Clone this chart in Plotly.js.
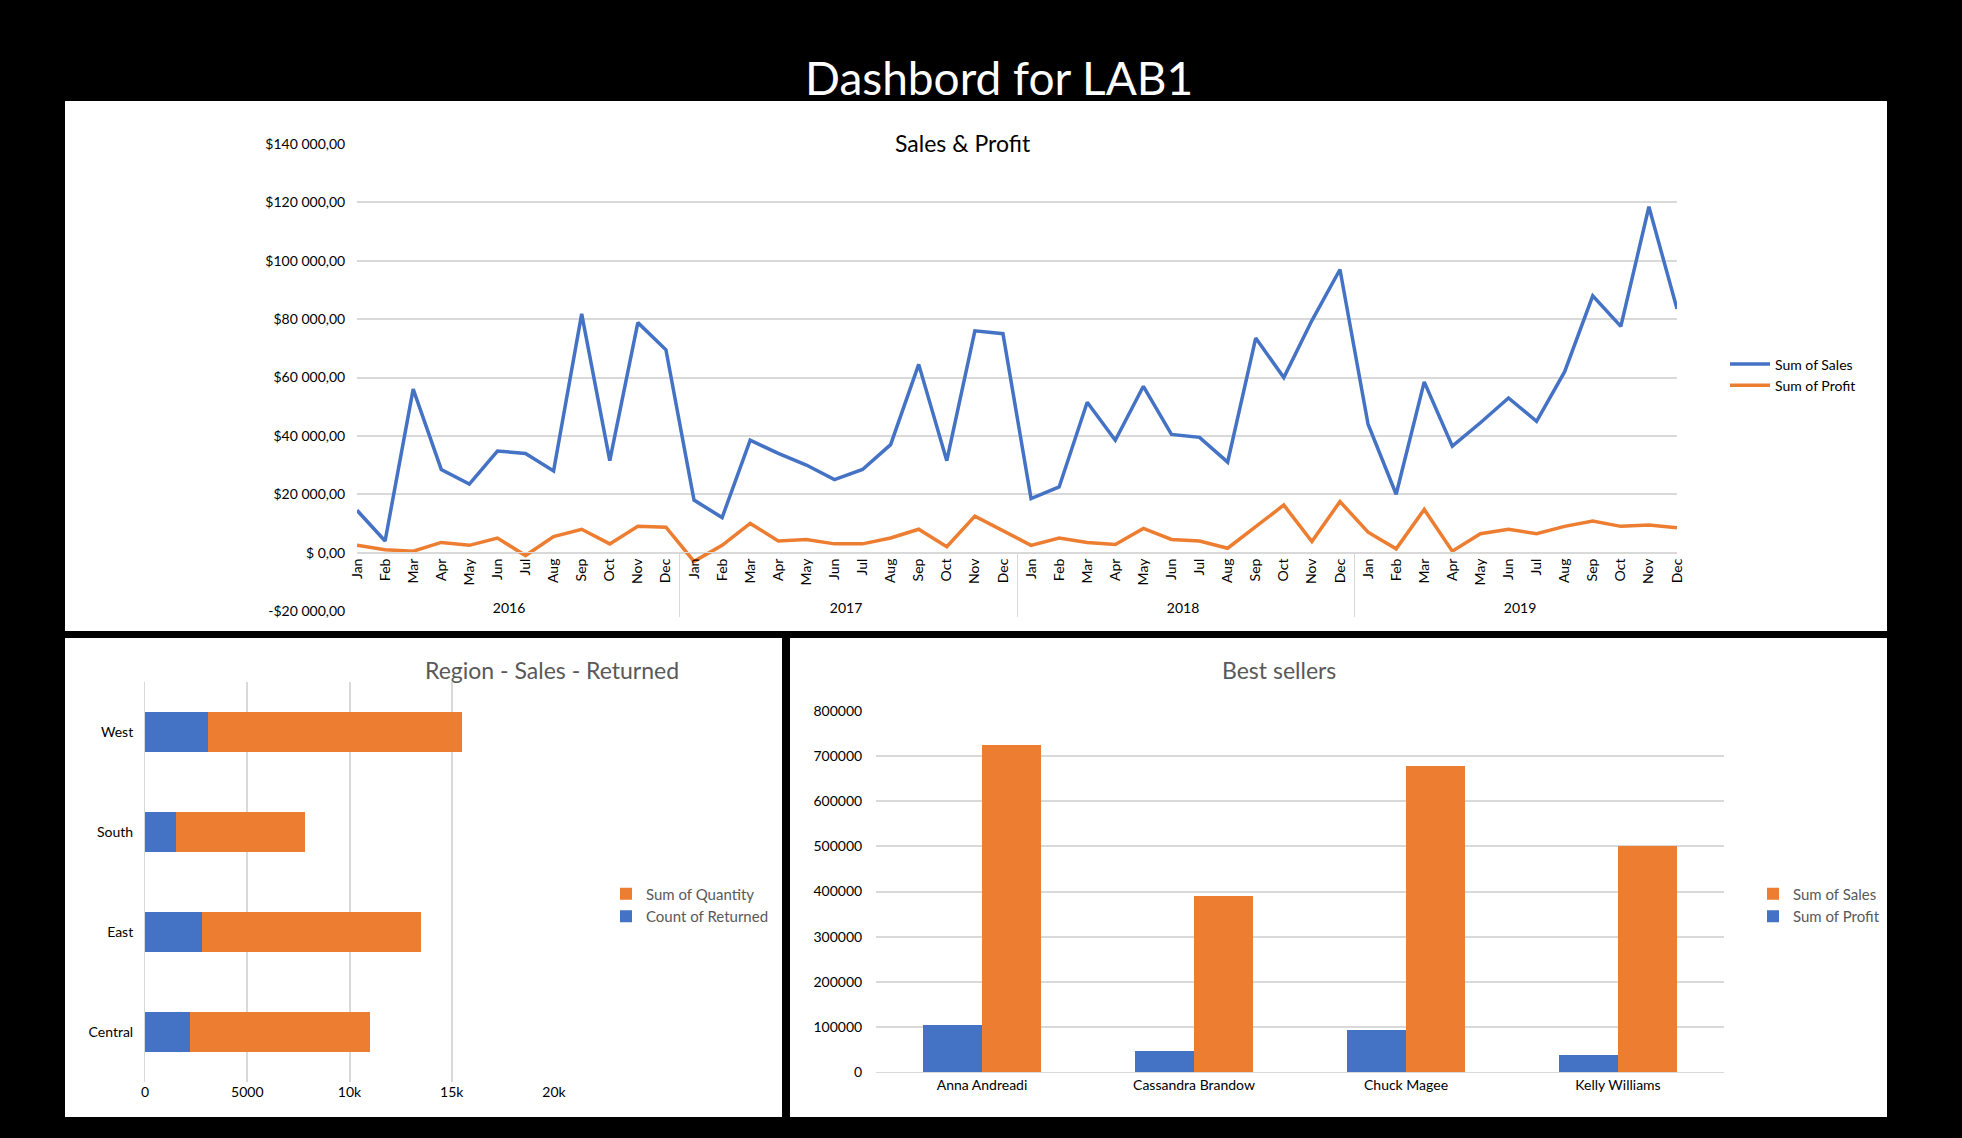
<!DOCTYPE html>
<html><head><meta charset="utf-8">
<script src="https://cdn.plot.ly/plotly-3.0.1.min.js"></script>
<style>html,body{margin:0;padding:0;background:#000}</style>
</head><body><div id="c" style="width:1962px;height:1138px"></div>
<script>
const years=['2016','2017','2018','2019'];
const months=['Jan','Feb','Mar','Apr','May','Jun','Jul','Aug','Sep','Oct','Nov','Dec'];
const sales=[14500,4000,56000,28500,23500,34800,34000,28000,81800,31500,78800,69500,
18000,12000,38500,34000,30000,25000,28500,37000,64500,31500,76000,75000,
18500,22500,51500,38500,57000,40500,39500,31000,73500,60000,79500,97000,
44000,20000,58500,36500,44500,53000,45000,62000,88000,77500,118500,83500];
const profit=[2500,1000,500,3500,2500,5000,-1000,5500,8000,3000,9000,8700,
-3000,2500,10000,4000,4500,3000,3000,5000,8000,2000,12500,7500,
2500,5000,3500,2800,8300,4500,4000,1500,9000,16300,3800,17500,
7000,1300,14800,500,6500,8000,6500,9000,10800,9000,9500,8500];
const yTickVals=[-20000,0,20000,40000,60000,80000,100000,120000,140000];
const yTickText=['-$20 000,00','$ 0,00','$20 000,00','$40 000,00','$60 000,00','$80 000,00','$100 000,00','$120 000,00','$140 000,00'];
const regions=['Central','East','South','West'];
const returned=[2200,2800,1500,3100];
const quantity=[8800,10700,6300,12400];
const sellers=['Anna Andreadi','Cassandra Brandow','Chuck Magee','Kelly Williams'];
const sellerProfit=[105000,47000,92000,38000];
const sellerSales=[725000,390000,678000,500000];

const W=1962,H=1138;
const px=v=>v/W, py=v=>1-v/H;
const xcat=[[],[]];
years.forEach(y=>months.forEach(m=>{xcat[0].push(y);xcat[1].push(m);}));
const blue='#4472C4', orange='#ED7D31';
const F='Lato, "Liberation Sans", sans-serif';
const data=[
 {x:xcat,y:sales,type:'scatter',mode:'lines',name:'Sum of Sales',line:{color:blue,width:3.5},xaxis:'x',yaxis:'y',legend:'legend'},
 {x:xcat,y:profit,type:'scatter',mode:'lines',name:'Sum of Profit',line:{color:orange,width:3.5},xaxis:'x',yaxis:'y',legend:'legend'},
 {y:regions,x:returned,type:'bar',orientation:'h',name:'Count of Returned',marker:{color:blue},xaxis:'x2',yaxis:'y2',legend:'legend2',width:0.4},
 {y:regions,x:quantity,type:'bar',orientation:'h',name:'Sum of Quantity',marker:{color:orange},xaxis:'x2',yaxis:'y2',legend:'legend2',width:0.4},
 {x:sellers,y:sellerProfit,type:'bar',name:'Sum of Profit',marker:{color:blue},xaxis:'x3',yaxis:'y3',legend:'legend3'},
 {x:sellers,y:sellerSales,type:'bar',name:'Sum of Sales',marker:{color:orange},xaxis:'x3',yaxis:'y3',legend:'legend3'}
];
const tf={family:F,size:14,color:'#000'};
const layout={
 width:W,height:H,paper_bgcolor:'#000',plot_bgcolor:'rgba(0,0,0,0)',
 margin:{l:0,r:0,t:0,b:0},showlegend:true,barmode:'stack',
 font:{family:F},
 shapes:[
  {type:'rect',xref:'paper',yref:'paper',x0:px(65),x1:px(1887),y0:py(631),y1:py(101),fillcolor:'#fff',line:{width:0},layer:'below'},
  {type:'rect',xref:'paper',yref:'paper',x0:px(65),x1:px(782),y0:py(1117),y1:py(638),fillcolor:'#fff',line:{width:0},layer:'below'},
  {type:'rect',xref:'paper',yref:'paper',x0:px(790),x1:px(1887),y0:py(1117),y1:py(638),fillcolor:'#fff',line:{width:0},layer:'below'}
 ],
 annotations:[
  {text:'Dashbord for LAB1',xref:'paper',yref:'paper',x:px(999),y:py(48),showarrow:false,font:{family:F,size:46,color:'#fff'}},
  {text:'Sales & Profit',xref:'paper',yref:'paper',x:px(963),y:py(127),showarrow:false,font:{family:F,size:23,color:'#000'}},
  {text:'Region - Sales - Returned',xref:'paper',yref:'paper',x:px(423),y:py(670),showarrow:false,font:{family:F,size:23,color:'#595959'}},
  {text:'Best sellers',xref:'paper',yref:'paper',x:px(1338),y:py(670),showarrow:false,font:{family:F,size:23,color:'#595959'}}
 ],
 xaxis:{type:'multicategory',domain:[px(357),px(1677)],anchor:'free',position:py(552),tickangle:-90,tickfont:tf,
   showdividers:true,dividercolor:'#d9d9d9',showline:true,linecolor:'#d9d9d9',ticks:'',showgrid:false},
 yaxis:{domain:[py(611),py(144)],range:[-20000,140000],tickvals:yTickVals,ticktext:yTickText,tickfont:tf,
   gridcolor:'#d9d9d9',gridwidth:1.5,zeroline:false,ticklen:8,ticks:'outside',tickcolor:'rgba(0,0,0,0)'},
 legend:{x:px(1725),y:py(375),xanchor:'left',yanchor:'middle',bgcolor:'rgba(0,0,0,0)',font:tf,tracegroupgap:10,itemwidth:40},
 xaxis2:{domain:[px(145),px(554)],anchor:'y2',range:[0,20000],tickvals:[0,5000,10000,15000,20000],tickfont:tf,gridcolor:'#d9d9d9',gridwidth:1.5,zeroline:false,showline:false},
 yaxis2:{domain:[py(1082),py(682)],anchor:'x2',tickfont:tf,showgrid:false,showline:true,linecolor:'#d9d9d9',ticks:'outside',ticklen:8,tickcolor:'rgba(0,0,0,0)'},
 legend2:{x:px(606),y:py(905),xanchor:'left',yanchor:'middle',bgcolor:'rgba(0,0,0,0)',font:{family:F,size:15,color:'#595959'},itemwidth:30},
 xaxis3:{domain:[px(876),px(1724)],anchor:'y3',tickfont:tf,showline:true,linecolor:'#d9d9d9'},
 yaxis3:{domain:[py(1072),py(711)],anchor:'x3',range:[0,800000],dtick:100000,tickformat:'d',tickfont:tf,gridcolor:'#d9d9d9',gridwidth:1.5,zeroline:false,ticks:'outside',ticklen:10,tickcolor:'rgba(0,0,0,0)'},
 legend3:{x:px(1753),y:py(905),xanchor:'left',yanchor:'middle',bgcolor:'rgba(0,0,0,0)',font:{family:F,size:15,color:'#595959'},itemwidth:30},
 bargap:0.44
};
// grouped bars for best sellers via offsetgroup
data[4].offsetgroup='a';data[5].offsetgroup='b';
Plotly.newPlot('c',data,layout,{displayModeBar:false});
</script></body></html>
